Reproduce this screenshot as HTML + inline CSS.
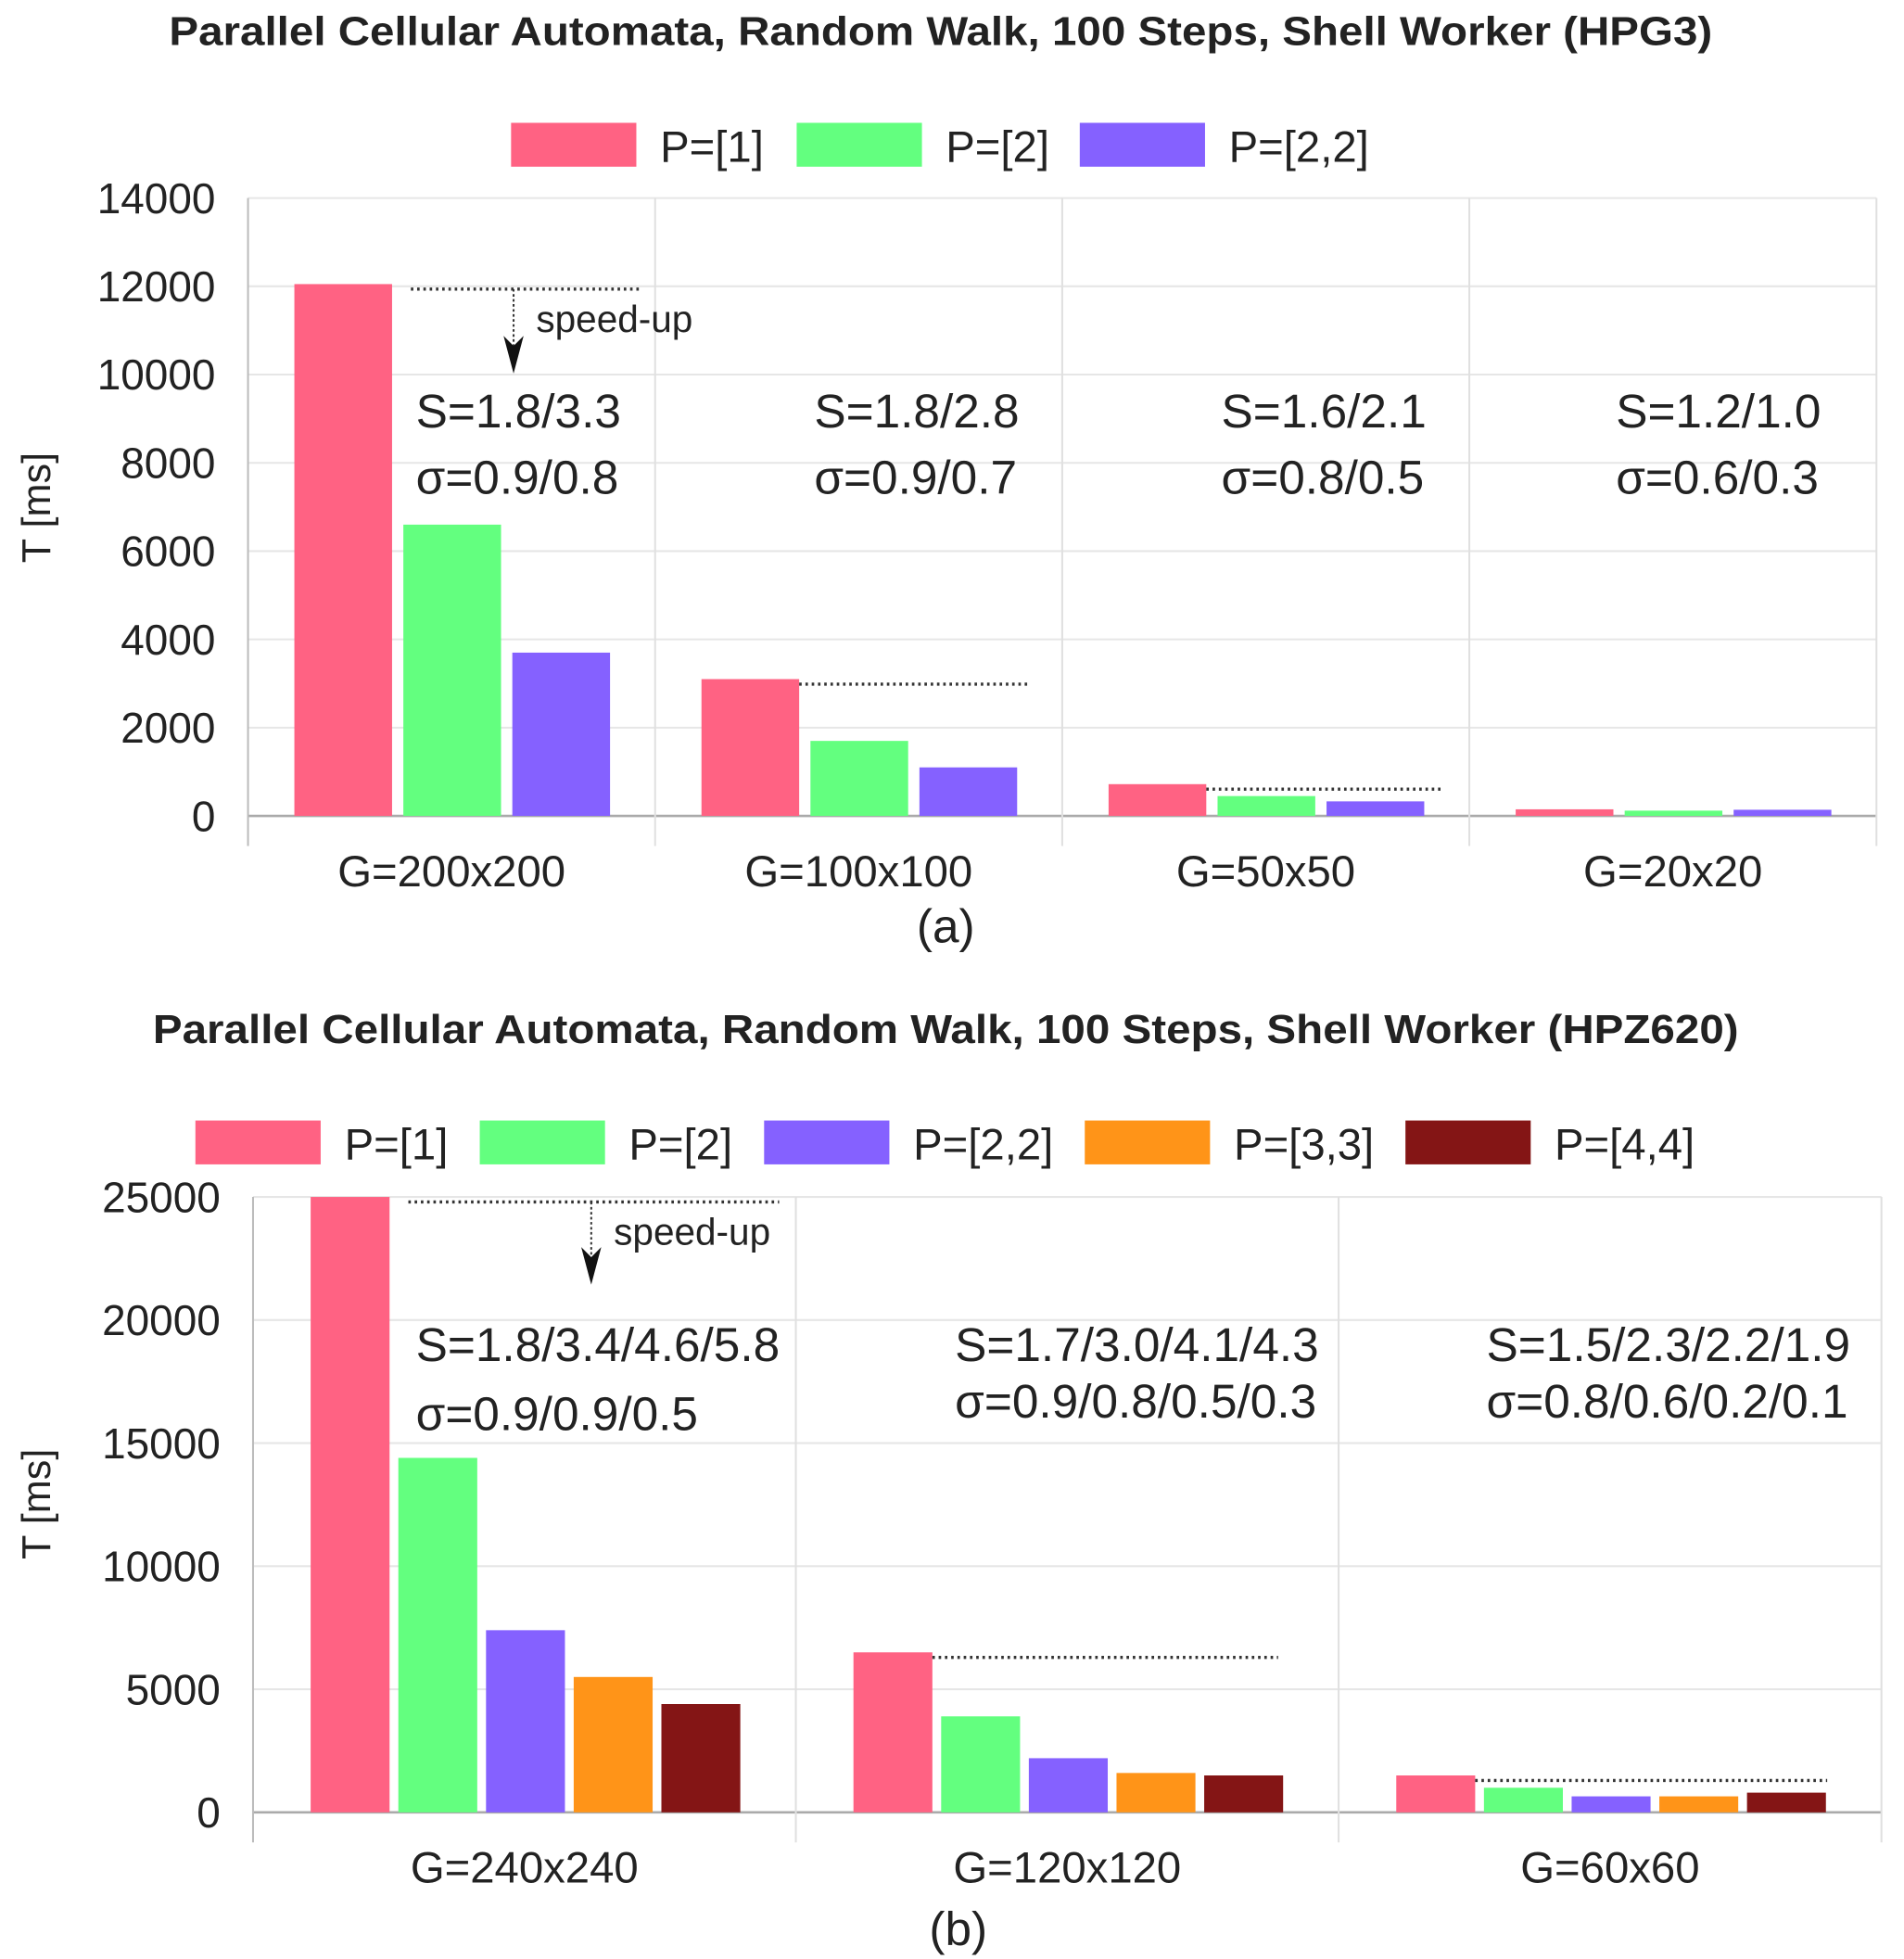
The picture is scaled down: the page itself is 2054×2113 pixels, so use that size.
<!DOCTYPE html>
<html><head><meta charset="utf-8"><style>
html,body{margin:0;padding:0;background:#fff}
svg{display:block}
text{font-family:"Liberation Sans",sans-serif;fill:#222}
</style></head><body>
<svg id="s" width="2054" height="2113" viewBox="0 0 1520 1563" preserveAspectRatio="none">
</svg>
<script>
const colors=["#ff6283","#63ff7f","#8561ff","#ff9418","#841515"];
const catsA=["G=200x200","G=100x100","G=50x50","G=20x20"];
const seriesA=["P=[1]","P=[2]","P=[2,2]"];
const valsA0=[12050,3100,720,150];
const valsA1=[6600,1700,450,120];
const valsA2=[3700,1100,330,140];
const ticksA=[0,2000,4000,6000,8000,10000,12000,14000];
const sA=["S=1.8/3.3","S=1.8/2.8","S=1.6/2.1","S=1.2/1.0"];
const gA=["σ=0.9/0.8","σ=0.9/0.7","σ=0.8/0.5","σ=0.6/0.3"];
const catsB=["G=240x240","G=120x120","G=60x60"];
const seriesB=["P=[1]","P=[2]","P=[2,2]","P=[3,3]","P=[4,4]"];
const valsB0=[25000,6500,1500];
const valsB1=[14400,3900,1000];
const valsB2=[7400,2200,650];
const valsB3=[5500,1600,650];
const valsB4=[4400,1500,800];
const ticksB=[0,5000,10000,15000,20000,25000];
const sB=["S=1.8/3.4/4.6/5.8","S=1.7/3.0/4.1/4.3","S=1.5/2.3/2.2/1.9"];
const gB=["σ=0.9/0.9/0.5","σ=0.9/0.8/0.5/0.3","σ=0.8/0.6/0.2/0.1"];

const svg=document.getElementById('s');
const NS="http://www.w3.org/2000/svg";
function mk(tag,at,txt){const e=document.createElementNS(NS,tag);for(const k in at)e.setAttribute(k,at[k]);if(txt!=null)e.textContent=txt;svg.appendChild(e);return e;}

function chart(c){
  const y=v=>c.y0-(v/c.max)*(c.y0-c.yTop);
  const gw=(c.x1-c.x0)/c.cats.length;
  let t=mk('text',{x:c.titleX,y:c.titleY,'font-size':32,'font-weight':'bold',textLength:c.titleW,lengthAdjust:'spacingAndGlyphs'},c.title);
  
  c.ticks.forEach(v=>{
    let g=mk('line',{x1:c.x0,x2:c.x1,y1:y(v),y2:y(v),stroke:v?'#e6e6e6':'#aaa','stroke-width':v?1.5:2});
    
    let l=mk('text',{x:c.x0-26,y:y(v)+12,'text-anchor':'end','font-size':34},v);
    
  });
  for(let i=0;i<=c.cats.length;i++){
    let ln=mk('line',{x1:c.x0+i*gw,x2:c.x0+i*gw,y1:c.yTop,y2:c.y0+24,stroke:i==0?'#bbb':'#e0e0e0','stroke-width':1.5});
    
  }
  let ya=mk('text',{transform:`translate(40,${c.yMid}) rotate(-90)`,'text-anchor':'middle','font-size':32},'T [ms]');
  
  c.cats.forEach((cat,i)=>{
    const gx=c.x0+i*gw;
    c.vals.forEach((arr,j)=>{
      const bx=gx+c.off+j*(c.bw+c.gap);
      let r=mk('rect',{x:bx,y:y(arr[i]),width:c.bw,height:c.y0-y(arr[i]),fill:colors[j]});
      
    });
    let cl=mk('text',{x:gx+gw/2,y:c.y0+56,'text-anchor':'middle','font-size':35},cat);
    
    if(c.dotEnd[i]){
      const v0=c.vals[0][i];
      const dx0=gx+c.off+c.bw+(i==0?15:0);
      let d=mk('line',{x1:dx0,x2:gx+c.dotEnd[i],y1:y(v0)+4,y2:y(v0)+4,stroke:'#333','stroke-width':2.5,'stroke-dasharray':'2,3'});
      
    }
    let s=mk('text',{x:gx+c.annX[i],y:c.sY[i],'font-size':38},c.s[i]);
    
    let g=mk('text',{x:gx+c.annX[i],y:c.gY[i],'font-size':38},c.g[i]);
    
  });
  let ar=mk('line',{x1:c.arrowX,x2:c.arrowX,y1:y(c.vals[0][0])+4,y2:c.arrowY-20,stroke:'#333','stroke-width':1.5,'stroke-dasharray':'2,2'});
  
  let ah=mk('path',{d:`M${c.arrowX-8},${c.arrowY-30} L${c.arrowX},${c.arrowY} L${c.arrowX+8},${c.arrowY-30} L${c.arrowX},${c.arrowY-22} Z`,fill:'#111'});
  
  let su=mk('text',{x:c.arrowX+18,y:c.suY,'font-size':30},'speed-up');
  
  c.series.forEach((n,j)=>{
    let r=mk('rect',{x:c.legX[j],y:c.legY,width:100,height:35,fill:colors[j]});
    
    let tx=mk('text',{x:c.legX[j]+119,y:c.legY+31,'font-size':35},n);
    
  });
  let sub=mk('text',{x:c.subX,y:c.subY,'text-anchor':'middle','font-size':38},c.sub);
  
}
chart({id:'chart-a',title:'Parallel Cellular Automata, Random Walk, 100 Steps, Shell Worker (HPG3)',titleX:135,titleW:1232,titleY:36,
 x0:198,x1:1498,y0:651,yTop:158,max:14000,ticks:ticksA,cats:catsA,vals:[valsA0,valsA1,valsA2],series:seriesA,
 off:37,bw:78,gap:9,dotEnd:[314,299,302,0],annX:[134,127,127,117],sY:[341,341,341,341],gY:[394,394,394,394],s:sA,g:gA,
 arrowX:410,arrowY:298,suY:265,legX:[408,636,862],legY:98,yMid:405,sub:'(a)',subX:755,subY:752});
chart({id:'chart-b',title:'Parallel Cellular Automata, Random Walk, 100 Steps, Shell Worker (HPZ620)',titleX:122,titleW:1266,titleY:832,
 x0:202,x1:1502,y0:1446,yTop:955,max:25000,ticks:ticksB,cats:catsB,vals:[valsB0,valsB1,valsB2,valsB3,valsB4],series:seriesB,
 off:46,bw:63,gap:7,dotEnd:[420,385,390],annX:[130,127,118],sY:[1086,1086,1086],gY:[1141,1131,1131],s:sB,g:gB,
 arrowX:472,arrowY:1025,suY:993,legX:[156,383,610,866,1122],legY:894,yMid:1200,sub:'(b)',subX:765,subY:1552});
</script>
</body></html>
